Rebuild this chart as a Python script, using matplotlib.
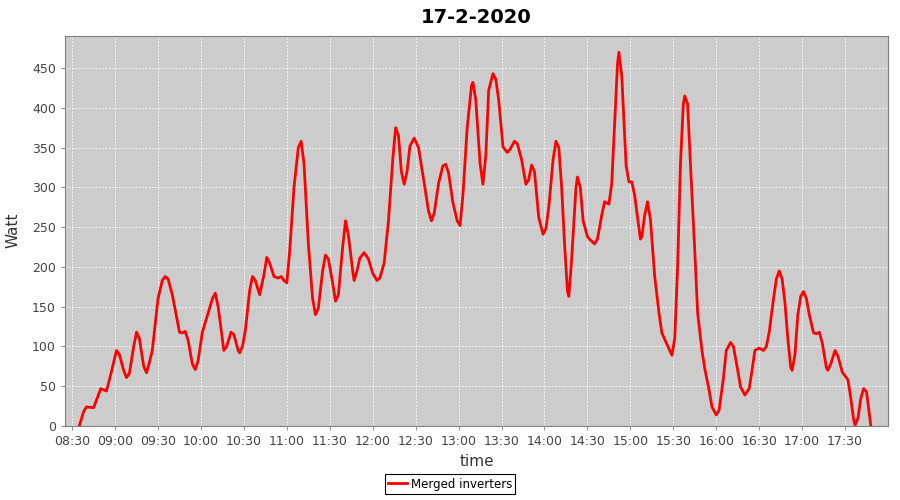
import matplotlib
matplotlib.use('Agg')
import matplotlib.pyplot as plt
import matplotlib.dates as mdates
import pandas as pd

# readings (time of day, watt)
times = ['08:35', '08:38', '08:40', '08:45', '08:50', '08:54', '08:57', '09:01', '09:03', '09:06',
         '09:08', '09:10', '09:13', '09:15', '09:17', '09:20', '09:22', '09:24', '09:26', '09:30',
         '09:33', '09:35', '09:37', '09:40', '09:45', '09:47', '09:49', '09:51', '09:54', '09:56',
         '09:58', '10:01', '10:05', '10:08', '10:10', '10:12', '10:16', '10:18', '10:21', '10:23',
         '10:26', '10:27', '10:29', '10:31', '10:34', '10:36', '10:38', '10:41', '10:44', '10:46',
         '10:48', '10:51', '10:54', '10:56', '10:58', '11:00', '11:02', '11:05', '11:08', '11:10',
         '11:12', '11:15', '11:18', '11:20', '11:22', '11:25', '11:27', '11:29', '11:32', '11:34',
         '11:36', '11:39', '11:41', '11:43', '11:46', '11:47', '11:49', '11:51', '11:54', '11:57',
         '12:00', '12:03', '12:05', '12:08', '12:11', '12:14', '12:16', '12:18', '12:20', '12:22',
         '12:24', '12:26', '12:29', '12:32', '12:36', '12:39', '12:41', '12:43', '12:46', '12:49',
         '12:51', '12:53', '12:56', '12:59', '13:01', '13:03', '13:06', '13:09', '13:10', '13:12',
         '13:15', '13:17', '13:19', '13:21', '13:24', '13:26', '13:28', '13:31', '13:34', '13:36',
         '13:39', '13:41', '13:44', '13:47', '13:49', '13:51', '13:53', '13:56', '13:59', '14:01',
         '14:03', '14:06', '14:08', '14:10', '14:12', '14:14', '14:16', '14:17', '14:19', '14:22',
         '14:23', '14:25', '14:27', '14:30', '14:32', '14:35', '14:37', '14:40', '14:42', '14:45',
         '14:47', '14:49', '14:51', '14:52', '14:54', '14:57', '14:59', '15:01', '15:03', '15:07',
         '15:08', '15:10', '15:12', '15:14', '15:17', '15:20', '15:22', '15:25', '15:27', '15:29',
         '15:31', '15:33', '15:35', '15:37', '15:38', '15:40', '15:42', '15:45', '15:47', '15:50',
         '15:52', '15:55', '15:57', '16:00', '16:02', '16:05', '16:07', '16:10', '16:12', '16:15',
         '16:17', '16:20', '16:23', '16:25', '16:27', '16:30', '16:33', '16:35', '16:37', '16:40',
         '16:42', '16:44', '16:46', '16:48', '16:50', '16:52', '16:53', '16:55', '16:57', '16:59',
         '17:01', '17:03', '17:05', '17:08', '17:10', '17:12', '17:14', '17:17', '17:18', '17:20',
         '17:23', '17:25', '17:28', '17:32', '17:34', '17:36', '17:37', '17:39', '17:41', '17:43',
         '17:45', '17:47', '17:48']
watt = [0, 18, 24, 23, 47, 44, 65, 95, 90, 70,
        61, 66, 100, 118, 110, 75, 67, 80, 95, 160,
        183, 188, 185, 165, 118, 117, 119, 108, 78, 71,
        82, 118, 142, 160, 167, 150, 95, 100, 118, 115,
        95, 92, 100, 120, 170, 188, 183, 165, 190, 212,
        205, 188, 186, 188, 183, 180, 220, 300, 350, 358,
        330, 230, 160, 140, 148, 195, 215, 210, 180, 157,
        165, 225, 258, 240, 195, 183, 195, 211, 218, 210,
        192, 183, 186, 205, 258, 335, 375, 365, 320, 304,
        320, 352, 362, 350, 305, 270, 258, 268, 305, 327,
        329, 318, 281, 258, 252, 290, 375, 428, 432, 410,
        330, 304, 340, 422, 443, 436, 410, 351, 344, 348,
        358, 355, 335, 304, 310, 328, 320, 262, 241, 248,
        275, 335, 358, 350, 300, 230, 170, 163, 210, 300,
        313, 300, 258, 238, 234, 229, 235, 265, 282, 279,
        305, 380, 455, 470, 440, 328, 307, 307, 290, 235,
        238, 265, 282, 260, 188, 142, 117, 105, 97, 89,
        110, 200, 330, 405, 415, 405, 328, 220, 142, 95,
        72, 45, 24, 14, 20, 60, 95, 105, 100, 70,
        49, 39, 47, 70, 95, 98, 95, 100, 118, 160,
        185, 195, 185, 155, 110, 74, 70, 90, 140, 163,
        169, 160, 140, 117, 116, 118, 105, 73, 70, 78,
        95, 88, 68, 58, 35, 8, 1, 10, 35, 47,
        43, 15, 0]
tick_times = ['08:30', '09:00', '09:30', '10:00', '10:30', '11:00', '11:30', '12:00', '12:30', '13:00',
              '13:30', '14:00', '14:30', '15:00', '15:30', '16:00', '16:30', '17:00', '17:30']
y_ticks = [0, 50, 100, 150, 200, 250, 300, 350, 400, 450]

day = '2020-02-17 '
t = pd.to_datetime([day + s for s in times])

fig = plt.figure(figsize=(9, 5), dpi=100)
ax = fig.add_axes([0.0722, 0.148, 0.9145, 0.781])
ax.set_facecolor('#cccccc')

ax.plot(t, watt, color='#ff0000', linewidth=2, label='Merged inverters')

ax.set_xlim(pd.Timestamp(day + '08:25'), pd.Timestamp(day + '18:00'))
ax.set_ylim(0, 491)
ax.set_yticks(y_ticks)
ax.set_xticks(pd.to_datetime([day + s for s in tick_times]))
ax.xaxis.set_major_formatter(mdates.DateFormatter('%H:%M'))

ax.grid(True, color='white', linestyle=(0, (2, 2)), linewidth=0.6)
ax.set_axisbelow(True)
for s in ax.spines.values():
    s.set_color('#808080')
    s.set_linewidth(0.8)
ax.tick_params(colors='#808080', labelcolor='#444444', labelsize=9, length=3, width=0.6)

ax.set_title('17-2-2020', fontsize=14, fontweight='bold', pad=9)
ax.set_xlabel('time', fontsize=11, color='#333333', labelpad=4)
ax.set_ylabel('Watt', fontsize=11, color='#333333', labelpad=8)

leg = fig.legend(loc='lower center', bbox_to_anchor=(0.5, 0.0), fontsize=8.5,
                 fancybox=False, edgecolor='black', framealpha=1, handlelength=1.6,
                 borderpad=0.3, handletextpad=0.3)
leg.get_frame().set_linewidth(0.8)

plt.savefig('out.png', dpi=100)
